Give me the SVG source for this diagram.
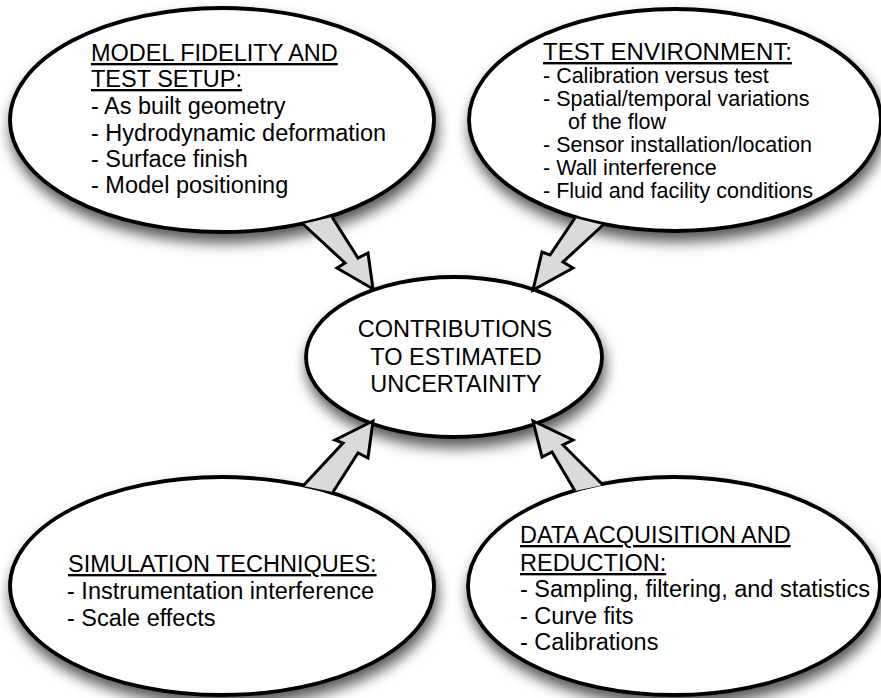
<svg xmlns="http://www.w3.org/2000/svg" width="881" height="698" viewBox="0 0 881 698">
<defs>
<filter id="sh" x="-20%" y="-20%" width="140%" height="160%">
<feDropShadow dx="2" dy="9" stdDeviation="7" flood-color="#000" flood-opacity="0.65"/>
</filter>
<style>
.bub{fill:#fff;stroke:#000;stroke-width:3.8;filter:url(#sh)}
.arr{fill:#dadada;stroke:#000;stroke-width:3;stroke-linejoin:miter;stroke-miterlimit:10}
text{font-family:"Liberation Sans",Arial,sans-serif;fill:#000}
.t{font-size:23.5px}
.s{font-size:21.5px}
.h{text-decoration:underline}
</style>
</defs>
<rect width="881" height="698" fill="#fff"/>
<g id="model-fidelity">
<ellipse class="bub" cx="222" cy="120" rx="212" ry="112"/>
<text class="t" x="91"><tspan class="h" x="91" y="61">MODEL FIDELITY AND</tspan><tspan class="h" x="91" y="87">TEST SETUP:</tspan><tspan x="91" y="114">- As built geometry</tspan><tspan x="91" y="141">- Hydrodynamic deformation</tspan><tspan x="91" y="167">- Surface finish</tspan><tspan x="91" y="193">- Model positioning</tspan></text>
</g>
<g id="test-environment">
<ellipse class="bub" cx="675" cy="120" rx="206" ry="111"/>
<text class="s"><tspan class="h" x="543" y="60" style="font-size:24px">TEST ENVIRONMENT:</tspan><tspan x="543" y="83">- Calibration versus test</tspan><tspan x="543" y="106">- Spatial/temporal variations</tspan><tspan x="568" y="129">of the flow</tspan><tspan x="543" y="152">- Sensor installation/location</tspan><tspan x="543" y="175">- Wall interference</tspan><tspan x="543" y="198">- Fluid and facility conditions</tspan></text>
</g>
<g id="contributions">
<ellipse class="bub" cx="454" cy="357" rx="148" ry="80"/>
<text class="t" text-anchor="middle"><tspan x="455" y="337">CONTRIBUTIONS</tspan><tspan x="456" y="365">TO ESTIMATED</tspan><tspan x="456" y="392">UNCERTAINITY</tspan></text>
</g>
<g id="simulation-techniques">
<ellipse class="bub" cx="222" cy="586" rx="212" ry="109"/>
<text class="t"><tspan class="h" x="68" y="572">SIMULATION TECHNIQUES:</tspan><tspan x="67" y="599">- Instrumentation interference</tspan><tspan x="67" y="626">- Scale effects</tspan></text>
</g>
<g id="data-acquisition">
<ellipse class="bub" cx="674" cy="586" rx="206" ry="109"/>
<text class="t"><tspan class="h" x="520" y="543">DATA ACQUISITION AND</tspan><tspan class="h" x="520" y="571">REDUCTION:</tspan><tspan x="520" y="597">- Sampling, filtering, and statistics</tspan><tspan x="520" y="624">- Curve fits</tspan><tspan x="520" y="650">- Calibrations</tspan></text>
</g>
<g id="connectors">
<path class="arr" d="M303,224 L345,263 L337,268 L373,289 L368,253 L358,258 L332,217"/>
<path class="arr" d="M575,218 L550,255 L542,252 L533,290 L573,268 L563,262 L603,225"/>
<path class="arr" d="M303,486 L343,443 L335,440 L373,421 L368,458 L358,453 L333,492"/>
<path class="arr" d="M603,485 L563,445 L573,440 L533,421 L542,457 L552,452 L575,491"/>
</g>
</svg>
